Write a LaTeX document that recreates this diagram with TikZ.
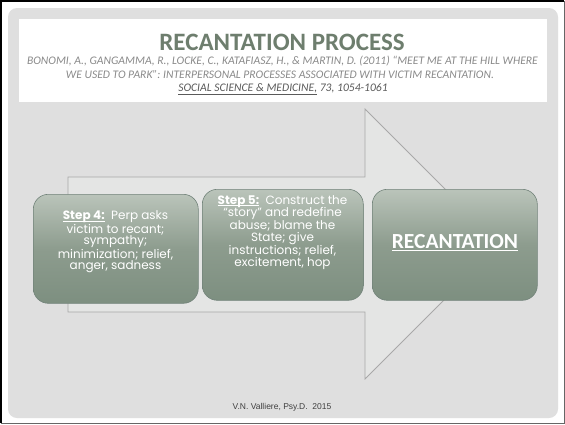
\documentclass[tikz,border=0pt]{standalone}
\usepackage{fontspec}
\setmainfont{Carlito}
\newfontfamily\gothic{Poppins}
\newfontfamily\arial{Liberation Sans}
\definecolor{panel}{HTML}{DFDFDF}
\definecolor{titlegreen}{HTML}{6E7E6E}
\definecolor{citegray}{HTML}{8A8A8A}
\definecolor{citedark}{HTML}{5A5A5A}
\definecolor{arrowfill}{HTML}{E4E5E4}
\definecolor{arrowline}{HTML}{A8A8A8}
\definecolor{boxtop}{HTML}{BAC4BA}
\definecolor{boxmid}{HTML}{8D9C8E}
\definecolor{boxbot}{HTML}{7D8F80}
\definecolor{boxline}{HTML}{72837A}
\newcommand{\stepul}[1]{\underline{\smash{#1}}}
\tikzset{
  stepbox/.style={draw=boxline, line width=0.6pt, rounded corners=15pt,
    top color=boxtop, bottom color=boxbot, middle color=boxmid},
  boxtext/.style={text=white, font=\gothic\fontsize{12}{10.4}\selectfont, align=center, inner sep=0pt},
  cite/.style={font=\itshape\fontsize{11.6}{12}\selectfont, text=citegray, inner sep=0pt}
}
\begin{document}
\begin{tikzpicture}[x=1pt,y=-1pt]
\useasboundingbox (0,0) rectangle (565,424);
\fill[white] (0,0) rectangle (565,424);
% slide frame
\draw[black, line width=1.5pt] (0.75,423) -- (0.75,0.75) -- (564,0.75);
\draw[gray!80!black, line width=1pt] (564.5,0.75) -- (564.5,423.5) -- (0.75,423.5);
% panel
\fill[panel, rounded corners=9pt] (8,8) rectangle (558,418);
% title box
\node[fill=white, minimum width=528pt, minimum height=83pt, inner sep=0pt, anchor=north west] (titlebox) at (19,19) {};
\node[font=\bfseries\fontsize{25}{27}\selectfont, text=titlegreen, inner sep=0pt] (title) at (282,42) {RECANTATION PROCESS};
\node[cite] (cite1) at (282.5,61) {BONOMI, A., GANGAMMA, R., LOCKE, C., KATAFIASZ, H., \& MARTIN, D. (2011) “MEET ME AT THE HILL WHERE};
\node[cite] (cite2) at (280,75) {WE USED TO PARK”: INTERPERSONAL PROCESSES ASSOCIATED WITH VICTIM RECANTATION.};
\node[cite, text=citedark] (cite3) at (283,89) {\underline{SOCIAL SCIENCE \& MEDICINE,} 73, 1054-1061};
% big arrow
\draw[fill=arrowfill, draw=arrowline, line width=0.8pt]
  (68,177) -- (365,177) -- (365,109) -- (500,244) -- (365,379) -- (365,312) -- (68,312) -- cycle;
% boxes
\node[stepbox, minimum width=165pt, minimum height=109pt, anchor=north west] (s4) at (33,194) {};
\node[stepbox, minimum width=161pt, minimum height=111pt, anchor=north west] (s5) at (202,189) {};
\node[stepbox, minimum width=165pt, minimum height=111pt, anchor=north west] (rec) at (372,189) {};
\node[boxtext] (t4) at (115.5,242) {\textbf{\stepul{Step 4:}}\ \ Perp asks\\victim to recant;\\sympathy;\\minimization; relief,\\anger, sadness};
\node[boxtext, anchor=north] (t5) at (282.5,195) {\textbf{\stepul{Step 5:}}\ \ Construct the\\“story” and redefine\\abuse; blame the\\State; give\\instructions; relief,\\excitement, hop};
\node[text=white, font=\bfseries\fontsize{21.5}{23}\selectfont, inner sep=0pt] (t6) at (455,243) {\underline{RECANTATION}};
% footer
\node[font=\arial\fontsize{8.5}{10}\selectfont, text=black!75, inner sep=0pt] (footer) at (282,407) {V.N. Valliere, Psy.D.\ \ 2015};
\end{tikzpicture}
\end{document}
